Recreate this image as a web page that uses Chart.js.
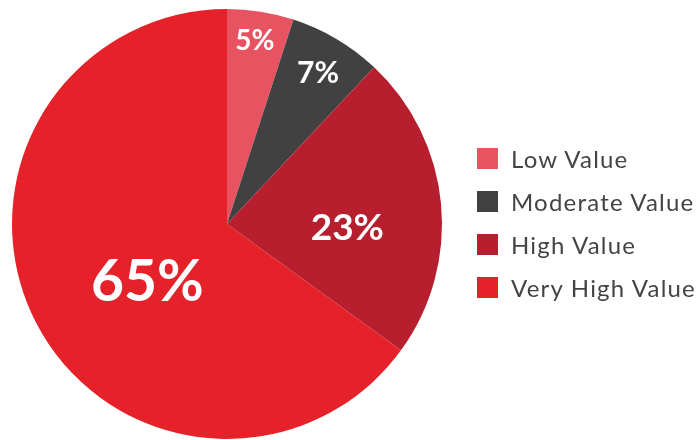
<!DOCTYPE html>
<html>
<head>
<meta charset="utf-8">
<script src="https://cdn.jsdelivr.net/npm/chart.js@4"></script>
<style>
  html, body { margin: 0; padding: 0; background: #fff; }
  #wrap { position: relative; width: 700px; height: 440px; }
  #legend { position: absolute; left: 477px; top: 137px; font-family: Lato, sans-serif; font-size: 24px; letter-spacing: 1.2px; color: #444; }
  #legend .item { display: flex; align-items: center; height: 43px; white-space: nowrap; }
  #legend .box { width: 21px; height: 21px; margin-right: 13px; }
</style>
</head>
<body>
<div id="wrap">
  <canvas id="pieChart" width="700" height="440"></canvas>
  <div id="legend"></div>
</div>
<script>
const labels = ['Low Value', 'Moderate Value', 'High Value', 'Very High Value'];
const shares = [5, 7, 23, 65];
const colors = ['#E85361', '#414141', '#B71F2E', '#E52229'];

// placement of each percentage: share of the slice's sweep, share of the radius, font size
const labelSweep = [0.48, 0.52, 0.59, 0.46];
const labelRadius = [0.86, 0.82, 0.56, 0.46];
const labelSize = [28, 30, 37, 57];

// white percentage text inside the slices
const sliceLabels = {
  id: 'sliceLabels',
  afterDatasetsDraw(chart) {
    const ctx = chart.ctx;
    const meta = chart.getDatasetMeta(0);
    ctx.save();
    ctx.fillStyle = '#fff';
    ctx.textAlign = 'center';
    ctx.textBaseline = 'middle';
    meta.data.forEach((arc, i) => {
      const p = arc.getProps(['x', 'y', 'startAngle', 'endAngle', 'outerRadius'], true);
      const a = p.startAngle + (p.endAngle - p.startAngle) * labelSweep[i];
      const r = p.outerRadius * labelRadius[i];
      ctx.font = 'bold ' + labelSize[i] + 'px Lato, sans-serif';
      ctx.fillText(shares[i] + '%', p.x + Math.cos(a) * r, p.y + Math.sin(a) * r);
    });
    ctx.restore();
  }
};

const chart = new Chart(document.getElementById('pieChart'), {
  type: 'pie',
  data: {
    labels,
    datasets: [{ data: shares, backgroundColor: colors, borderWidth: 0 }]
  },
  options: {
    responsive: false,
    animation: false,
    layout: { padding: { left: 12, right: 258, top: 9, bottom: 1 } },
    plugins: { legend: { display: false }, tooltip: { enabled: false } }
  },
  plugins: [sliceLabels]
});

// legend on the right
const legend = document.getElementById('legend');
labels.forEach((name, i) => {
  const item = document.createElement('div');
  item.className = 'item';
  item.innerHTML = `<span class="box" style="background:${colors[i]}"></span><span>${name}</span>`;
  legend.appendChild(item);
});
</script>
</body>
</html>
